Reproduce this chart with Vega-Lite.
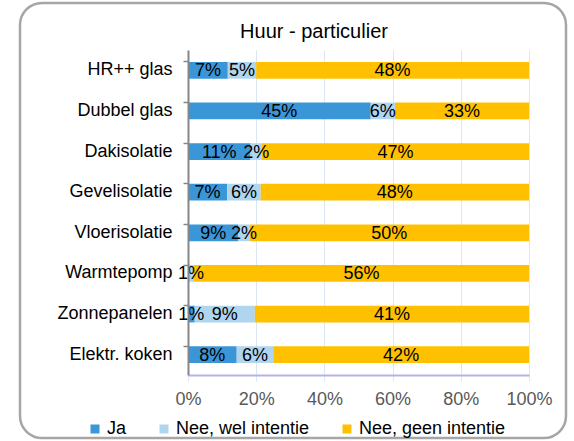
{
  "$schema": "https://vega.github.io/schema/vega-lite/v6.json",
  "width": 546,
  "height": 435,
  "autosize": {"type": "none"},
  "padding": {"left": 20, "top": 3, "right": 8, "bottom": 3},
  "background": "white",
  "title": {"text": "Huur - particulier", "fontSize": 20, "font": "Liberation Sans", "fontWeight": "normal", "color": "#000000", "anchor": "middle", "frame": "group", "dx": 21, "offset": -55, "baseline": "alphabetic"},
  "config": {
    "font": "Liberation Sans",
    "view": {"stroke": "#a6a6a6", "strokeWidth": 2.5, "cornerRadius": 22, "fill": "white"}
  },
  "data": {"values": [
    {"item": "HR++ glas", "series": "Ja", "k": 1, "v": 0.07},
    {"item": "HR++ glas", "series": "Nee, wel intentie", "k": 2, "v": 0.05},
    {"item": "HR++ glas", "series": "Nee, geen intentie", "k": 3, "v": 0.48},
    {"item": "Dubbel glas", "series": "Ja", "k": 1, "v": 0.45},
    {"item": "Dubbel glas", "series": "Nee, wel intentie", "k": 2, "v": 0.06},
    {"item": "Dubbel glas", "series": "Nee, geen intentie", "k": 3, "v": 0.33},
    {"item": "Dakisolatie", "series": "Ja", "k": 1, "v": 0.11},
    {"item": "Dakisolatie", "series": "Nee, wel intentie", "k": 2, "v": 0.02},
    {"item": "Dakisolatie", "series": "Nee, geen intentie", "k": 3, "v": 0.47},
    {"item": "Gevelisolatie", "series": "Ja", "k": 1, "v": 0.07},
    {"item": "Gevelisolatie", "series": "Nee, wel intentie", "k": 2, "v": 0.06},
    {"item": "Gevelisolatie", "series": "Nee, geen intentie", "k": 3, "v": 0.48},
    {"item": "Vloerisolatie", "series": "Ja", "k": 1, "v": 0.09},
    {"item": "Vloerisolatie", "series": "Nee, wel intentie", "k": 2, "v": 0.02},
    {"item": "Vloerisolatie", "series": "Nee, geen intentie", "k": 3, "v": 0.50},
    {"item": "Warmtepomp", "series": "Ja", "k": 1, "v": 0},
    {"item": "Warmtepomp", "series": "Nee, wel intentie", "k": 2, "v": 0.01},
    {"item": "Warmtepomp", "series": "Nee, geen intentie", "k": 3, "v": 0.56},
    {"item": "Zonnepanelen", "series": "Ja", "k": 1, "v": 0.01},
    {"item": "Zonnepanelen", "series": "Nee, wel intentie", "k": 2, "v": 0.09},
    {"item": "Zonnepanelen", "series": "Nee, geen intentie", "k": 3, "v": 0.41},
    {"item": "Elektr. koken", "series": "Ja", "k": 1, "v": 0.08},
    {"item": "Elektr. koken", "series": "Nee, wel intentie", "k": 2, "v": 0.06},
    {"item": "Elektr. koken", "series": "Nee, geen intentie", "k": 3, "v": 0.42}
  ]},
  "encoding": {
    "y": {
      "field": "item", "type": "nominal", "sort": null,
      "scale": {"range": [47, 372], "paddingInner": 0.59, "paddingOuter": 0.295},
      "axis": {"orient": "left", "offset": -168, "bandPosition": 0, "grid": false, "domainColor": "#868686", "domainWidth": 2, "tickColor": "#868686", "tickSize": 5, "tickWidth": 1.5, "labelFontSize": 18, "labelColor": "#000000", "labelPadding": 11, "title": null, "zindex": 1}
    }
  },
  "layer": [
    {
      "mark": {"type": "bar"},
      "encoding": {
        "x": {"field": "v", "type": "quantitative", "stack": "normalize",
          "scale": {"range": [168, 509]},
          "axis": {"orient": "bottom", "offset": -63, "format": ".0%", "values": [0, 0.2, 0.4, 0.6, 0.8, 1], "grid": false, "domainColor": "#b4b4e4", "domainWidth": 2, "tickColor": "#d9e7f5", "tickSize": 6, "tickWidth": 1, "labelFontSize": 18, "labelColor": "#595959", "labelPadding": 9, "labelFlush": false, "title": null}},
        "color": {"field": "series", "type": "nominal", "sort": ["Ja", "Nee, wel intentie", "Nee, geen intentie"],
          "scale": {"domain": ["Ja", "Nee, wel intentie", "Nee, geen intentie"], "range": ["#3a96d6", "#b0d5ef", "#ffc000"]},
          "legend": {"orient": "none", "legendX": 66, "legendY": 417, "direction": "horizontal", "title": null, "symbolType": "square", "symbolSize": 81, "symbolStrokeWidth": 0, "labelFontSize": 18, "labelColor": "#000000", "labelOffset": 3, "columnPadding": 28, "padding": 0}},
        "order": {"field": "k", "type": "quantitative"}
      }
    },
    {
      "transform": [{"filter": "datum.v > 0"}],
      "mark": {"type": "text", "fontSize": 18, "color": "#000000", "align": "center", "baseline": "middle", "dy": 1},
      "encoding": {
        "x": {"field": "v", "type": "quantitative", "stack": "normalize", "bandPosition": 0.5,
          "axis": {"orient": "top", "grid": true, "gridColor": "#d9e7f5", "gridWidth": 1, "labels": false, "ticks": false, "domain": false, "title": null, "values": [0.2, 0.4, 0.6, 0.8, 1]}},
        "detail": {"field": "series"},
        "order": {"field": "k", "type": "quantitative"},
        "text": {"field": "v", "type": "quantitative", "format": ".0%"}
      }
    }
  ]
}
